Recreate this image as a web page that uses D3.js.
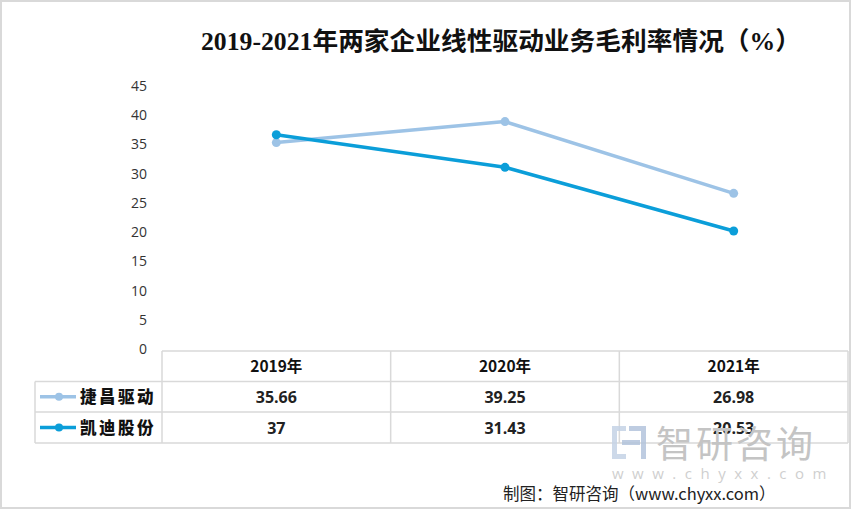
<!DOCTYPE html>
<html><head><meta charset="utf-8">
<script src="https://cdn.jsdelivr.net/npm/d3@7"></script>
<style>body{margin:0;background:#fff}svg{display:block}</style>
</head><body><svg id="c" width="851" height="509"></svg>
<script>
const title = "2019-2021年两家企业线性驱动业务毛利率情况（%）";
const years = ["2019年","2020年","2021年"];
const seriesNames = ["捷昌驱动","凯迪股份"];
const jiechang = [35.66, 39.25, 26.98];
const kaidi = [37, 31.43, 20.53];
const jiechangLabels = ["35.66","39.25","26.98"];
const kaidiLabels = ["37","31.43","20.53"];
const yTicks = [0,5,10,15,20,25,30,35,40,45];
const colors = ["#9dc3e6","#0b9ed9"];
const source = "制图：智研咨询（www.chyxx.com）";

const svg = d3.select("#c");
const W = 851, H = 509;
svg.append("rect").attr("x",1).attr("y",1).attr("width",W-2).attr("height",H-2)
  .attr("fill","#fff").attr("stroke","#d9d9d9").attr("stroke-width",2);

const sans = "'Noto Sans CJK SC','Liberation Sans',sans-serif";
const num = "'Open Sans','Liberation Sans','Noto Sans CJK SC',sans-serif";

svg.append("text").attr("x",201).attr("y",50).text(title)
  .attr("font-family","'Liberation Serif','Noto Sans CJK SC',serif")
  .attr("font-size",25).attr("font-weight","bold").attr("fill","#111")
  .attr("textLength",600).attr("lengthAdjust","spacingAndGlyphs");

const x = d3.scaleBand().domain(years).range([162,848]).padding(0);
const y = d3.scaleLinear().domain([0,45]).range([351,88]);
const cx = d => x(d) + x.bandwidth()/2;

// y axis labels
svg.append("g").selectAll("text").data(yTicks).join("text")
  .attr("x",147).attr("y",d=>y(d)+3).attr("text-anchor","end")
  .attr("font-family",num).attr("font-size",14).attr("fill","#333").text(d=>d);

// lines
const series = [jiechang, kaidi];
series.forEach((vals,i)=>{
  const line = d3.line().x((d,j)=>cx(years[j])).y(d=>y(d));
  svg.append("path").datum(vals).attr("d",line).attr("fill","none")
    .attr("stroke",colors[i]).attr("stroke-width",3.5).attr("stroke-linejoin","round");
  svg.append("g").selectAll("circle").data(vals).join("circle")
    .attr("cx",(d,j)=>cx(years[j])).attr("cy",d=>y(d)).attr("r",4.5).attr("fill",colors[i]);
});

// table
const rowY = [351, 381.5, 412, 443];
const colX = [x.range()[0]].concat(years.map(d=>x(d)+x.bandwidth()));
const grid = svg.append("g").attr("stroke","#d9d9d9").attr("stroke-width",1.5);
grid.append("line").attr("x1",colX[0]).attr("x2",colX[3]).attr("y1",rowY[0]).attr("y2",rowY[0]);
for (let r=1;r<4;r++) grid.append("line").attr("x1",35).attr("x2",colX[3]).attr("y1",rowY[r]).attr("y2",rowY[r]);
grid.append("line").attr("x1",35).attr("x2",35).attr("y1",rowY[1]).attr("y2",rowY[3]);
colX.forEach(v=>{
  grid.append("line").attr("x1",v).attr("x2",v).attr("y1",rowY[0]).attr("y2",rowY[3]);
});

svg.append("g").selectAll("text").data(years).join("text")
  .attr("x",d=>cx(d)).attr("y",rowY[0]+21).attr("text-anchor","middle")
  .attr("font-family",sans).attr("font-weight","bold").attr("font-size",15.5).attr("fill","#111").text(d=>d);

const labels = [jiechangLabels, kaidiLabels];
labels.forEach((lab,i)=>{
  const yy = (rowY[i+1]+rowY[i+2])/2;
  svg.append("g").selectAll("text").data(lab).join("text")
    .attr("x",(d,j)=>cx(years[j])).attr("y",yy+6).attr("text-anchor","middle")
    .attr("font-family",num).attr("font-weight","bold").attr("font-size",16).attr("fill","#222").text(d=>d);
  svg.append("line").attr("x1",40).attr("x2",76).attr("y1",yy).attr("y2",yy)
    .attr("stroke",colors[i]).attr("stroke-width",3.5);
  svg.append("circle").attr("cx",59).attr("cy",yy).attr("r",4).attr("fill",colors[i]);
  svg.append("text").attr("x",80).attr("y",yy+6).text(seriesNames[i])
    .attr("font-family",sans).attr("font-weight","900").attr("font-size",16.5)
    .attr("letter-spacing",2.5).attr("fill","#111");
});

// watermark
const wm = svg.append("g").attr("opacity",0.85);
wm.append("rect").attr("x",612).attr("y",426).attr("width",14).attr("height",5).attr("fill","#c5d3e6");
wm.append("rect").attr("x",612).attr("y",426).attr("width",5).attr("height",33).attr("fill","#c5d3e6");
wm.append("rect").attr("x",612).attr("y",454).attr("width",14).attr("height",5).attr("fill","#c5d3e6");
wm.append("rect").attr("x",629).attr("y",426).attr("width",17).attr("height",5).attr("fill","#b3c4dc");
wm.append("rect").attr("x",641).attr("y",426).attr("width",5).attr("height",33).attr("fill","#b3c4dc");
wm.append("rect").attr("x",622).attr("y",440).attr("width",18).attr("height",5).attr("fill","#b3c4dc");
svg.append("text").attr("x",656).attr("y",458).text("智研咨询")
  .attr("font-family",sans).attr("font-size",37).attr("fill","#c4c4c4").attr("letter-spacing",3);
svg.append("text").attr("x",612).attr("y",479).text("www.chyxx.com")
  .attr("font-family",num).attr("font-size",15).attr("fill","#cfcfcf").attr("letter-spacing",8.5);

svg.append("text").attr("x",503).attr("y",500).text(source)
  .attr("font-family",sans).attr("font-size",16.5).attr("fill","#222");
</script></body></html>
